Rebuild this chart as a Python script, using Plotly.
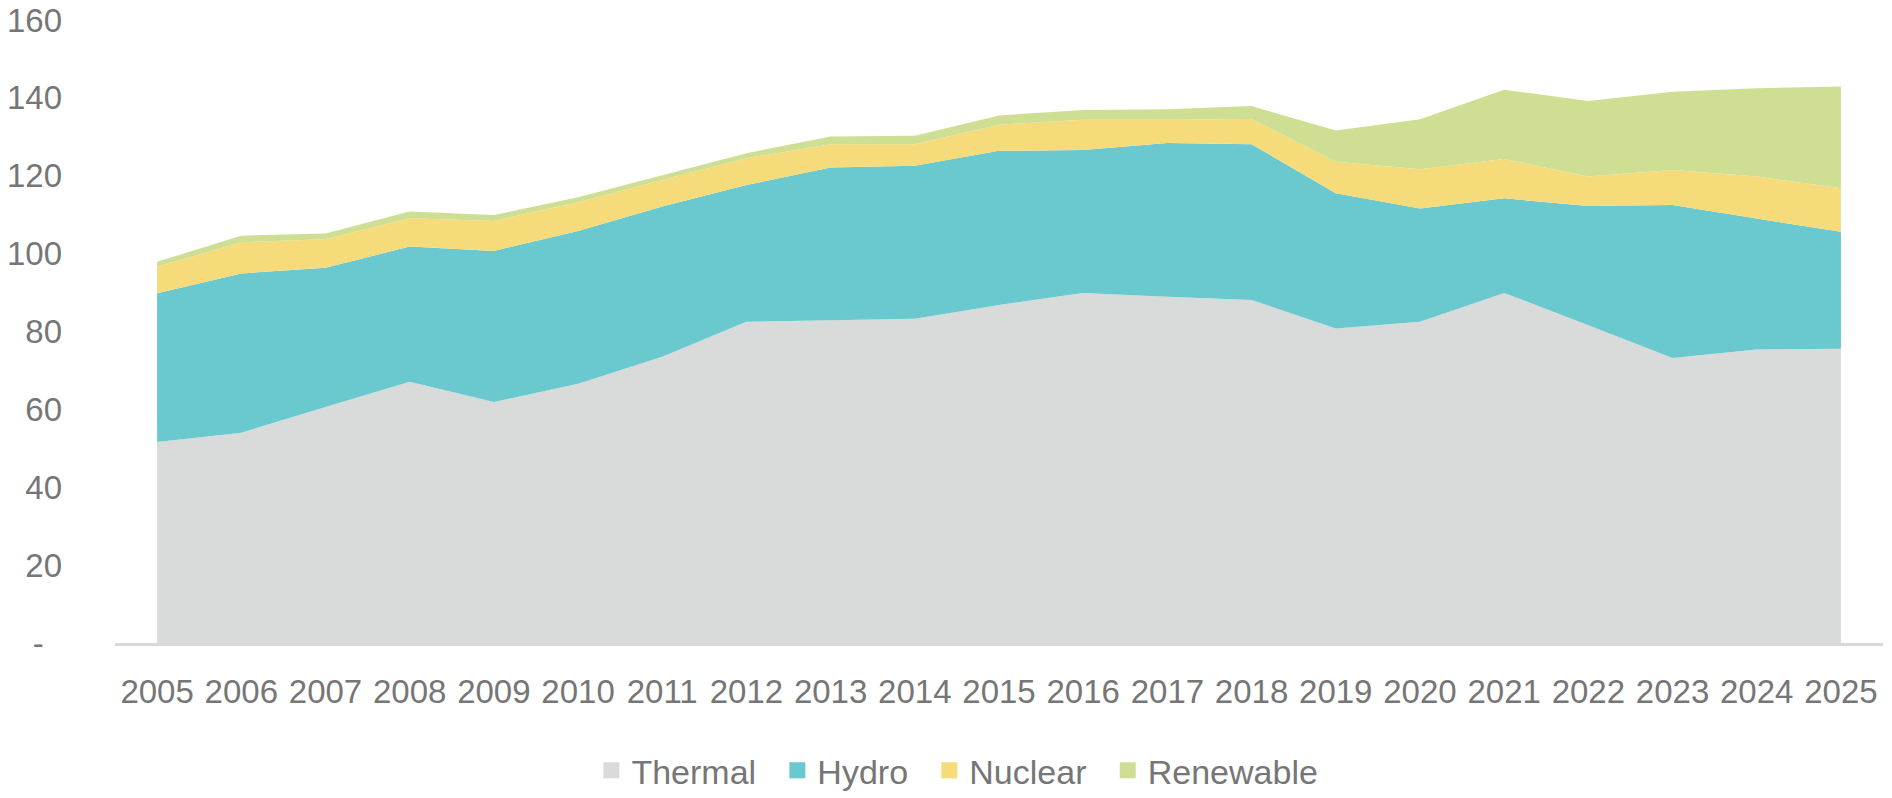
import plotly.graph_objects as go

years = [str(y) for y in range(2005, 2026)]
thermal = [51.6, 54.0, 60.6, 67.1, 61.9, 66.6, 73.5, 82.5, 82.9, 83.3, 86.8,
           89.9, 88.9, 88.1, 80.8, 82.5, 89.9, 81.6, 73.2, 75.4, 75.6]
hydro = [38.2, 40.9, 35.8, 34.7, 38.8, 39.2, 38.6, 35.1, 39.2, 39.3, 39.6,
         36.7, 39.5, 40.0, 34.7, 29.1, 24.3, 30.6, 39.3, 33.6, 30.0]
nuclear = [6.8, 8.0, 7.3, 7.3, 7.7, 7.4, 6.8, 6.9, 6.0, 5.5, 6.7,
           7.8, 6.0, 6.5, 8.1, 10.1, 10.1, 7.6, 9.0, 10.8, 11.2]
renewable = [1.3, 1.7, 1.5, 1.7, 1.5, 1.3, 1.2, 1.3, 2.0, 2.2, 2.4,
             2.5, 2.7, 3.3, 8.0, 12.8, 17.8, 19.4, 20.1, 22.7, 26.1]

series_names = ["Thermal", "Hydro", "Nuclear", "Renewable"]
series_vals = [thermal, hydro, nuclear, renewable]
colors = ["#D9DADA", "#6AC8CF", "#F6DB7B", "#CEDF93"]

y_tickvals = [0, 20, 40, 60, 80, 100, 120, 140, 160]
y_ticktext = ["-\u00a0\u00a0", "20", "40", "60", "80", "100", "120", "140", "160"]

FONT = "Liberation Sans, Arial, sans-serif"
TXT = "#767676"

fig = go.Figure()
xs = list(range(len(years)))
for name, vals, col in zip(series_names, series_vals, colors):
    fig.add_trace(go.Scatter(
        x=xs, y=vals, name=name, stackgroup="one", mode="none",
        fillcolor=col, showlegend=False, hoverinfo="x+y+name"))
for name, col in zip(series_names, colors):
    fig.add_trace(go.Scatter(
        x=[None], y=[None], name=name + "\u00a0\u2009", mode="markers",
        marker=dict(symbol="square", size=16, color=col), showlegend=True))

fig.update_layout(
    width=1892, height=798,
    margin=dict(l=115, r=9, t=20, b=155, autoexpand=False),
    paper_bgcolor="white", plot_bgcolor="white",
    font=dict(family=FONT, size=32, color=TXT),
    legend=dict(orientation="h", x=0.481, xanchor="center", y=-0.205,
                yanchor="middle", font=dict(size=34, color=TXT),
                itemwidth=30, traceorder="normal"),
    xaxis=dict(range=[-0.5, 20.5], tickmode="array", tickvals=xs,
               ticktext=years, showgrid=False, zeroline=False,
               showline=True, linecolor="#D9D9D9", linewidth=3,
               ticks="", ticklabelstandoff=17,
               tickfont=dict(size=33, color=TXT)),
    yaxis=dict(range=[0, 160], tickmode="array", tickvals=y_tickvals,
               ticktext=y_ticktext, showgrid=False, zeroline=False,
               showline=False, ticks="", ticklabelstandoff=52,
               tickfont=dict(size=33, color=TXT)),
)

fig.write_html("out.html")
